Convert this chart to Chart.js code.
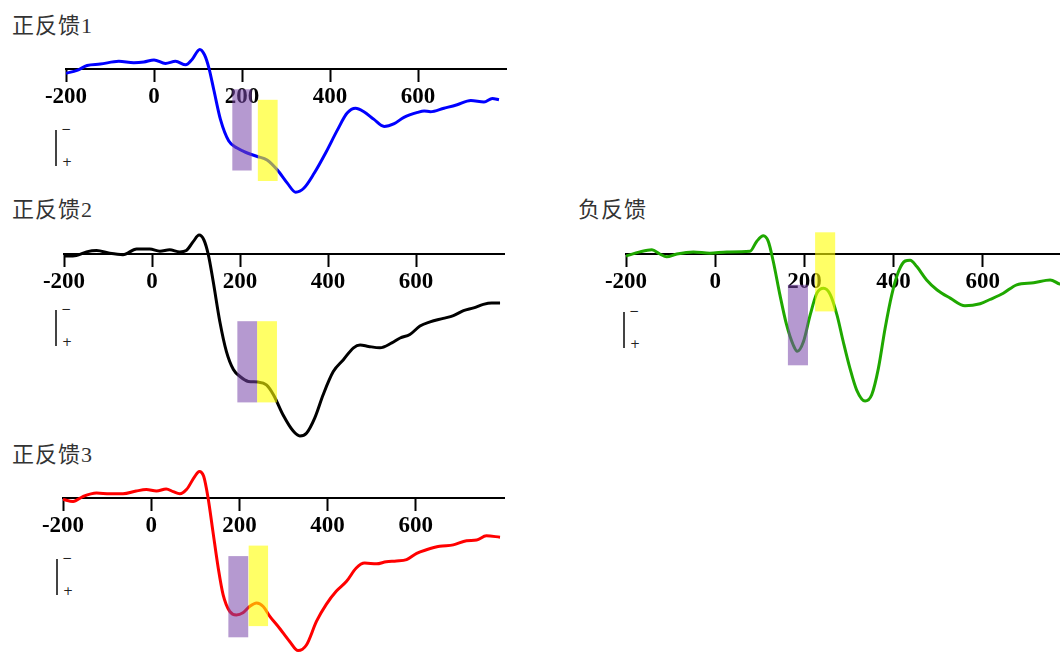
<!DOCTYPE html>
<html>
<head>
<meta charset="utf-8">
<script src="https://cdn.jsdelivr.net/npm/chart.js@4"></script>
<style>
  html, body { margin: 0; padding: 0; background: #fff; overflow: hidden; width: 1060px; height: 652px; }
  .wrap { position: absolute; }
  .title { position: absolute; font-family: "Liberation Serif", "Noto Sans CJK SC"; font-size: 22px; line-height: 22px; color: #333; letter-spacing: 1px; white-space: nowrap; }
  .pol { position: absolute; width: 20px; height: 36px; border-left: 2px solid #444; }
  .pol span { position: absolute; font-family: "DejaVu Sans"; font-size: 12px; line-height: 12px; color: #222; }
  .pol .m { left: 4px; top: -7px; }
  .pol .p { left: 5px; top: 26px; }
</style>
</head>
<body>

<div class="title" style="left:12px;top:15px">正反馈1</div>
<div class="title" style="left:12px;top:199px">正反馈2</div>
<div class="title" style="left:578px;top:199px">负反馈</div>
<div class="title" style="left:12px;top:444px">正反馈3</div>

<div class="pol" style="left:55px;top:130px"><span class="m">−</span><span class="p">+</span></div>
<div class="pol" style="left:55px;top:310px"><span class="m">−</span><span class="p">+</span></div>
<div class="pol" style="left:623px;top:312px"><span class="m">−</span><span class="p">+</span></div>
<div class="pol" style="left:56px;top:559px"><span class="m">−</span><span class="p">+</span></div>

<div class="wrap" style="left:36px;top:27px;width:480px;height:238px"><canvas id="c1"></canvas></div>
<div class="wrap" style="left:34px;top:212px;width:480px;height:238px"><canvas id="c2"></canvas></div>
<div class="wrap" style="left:596px;top:212px;width:486px;height:238px"><canvas id="c3"></canvas></div>
<div class="wrap" style="left:33px;top:456px;width:481px;height:238px"><canvas id="c4"></canvas></div>

<script>
// time axis ticks (ms)
var tickValues = [-200, 0, 200, 400, 600];

// 正反馈1 (amplitude, positive plotted downward)
var pos1Time = [-200,-175,-152,-122,-80,-46,-23,0,26,49,72,87,104,115,125,136,151,170,189,212,235,257,280,303,322,341,364,390,417,439,458,477,500,523,546,568,599,614,628,659,689,720,750,769,784];
var pos1Amp  = [0.6,0.2,-0.5,-0.7,-1.1,-0.9,-1.0,-1.3,-0.8,-1.1,-0.6,-1.4,-2.8,-2.0,-0.1,3.0,7.2,10.3,11.3,12.0,12.5,13.0,14.4,16.3,17.6,17.0,14.9,12.0,8.7,6.3,5.6,6.1,7.2,8.2,7.8,6.9,6.2,6.0,6.1,5.6,5.1,4.5,4.7,4.2,4.4];

// 正反馈2
var pos2Time = [-200,-172,-149,-126,-96,-66,-35,-5,18,40,63,78,94,107,118,128,139,154,169,185,200,219,241,260,276,298,321,336,351,370,389,412,435,458,473,492,518,545,564,586,609,632,662,685,708,731,753,772,791];
var pos2Amp  = [0.3,0.2,-0.3,-0.5,-0.1,0.1,-0.7,-0.7,-0.4,-0.6,-0.3,-0.5,-1.8,-2.7,-2.0,0.1,3.9,9.6,13.9,16.5,17.5,18.2,18.3,18.7,20.1,23.0,25.3,26.0,25.6,23.4,20.1,16.8,15.1,13.4,13.0,13.2,13.4,12.7,12.0,11.5,10.3,9.7,9.2,8.8,8.1,7.7,7.2,7.0,7.0];

// 负反馈
var negTime = [-200,-169,-142,-124,-109,-86,-49,-12,26,78,93,108,119,130,145,160,175,184,198,213,228,243,258,273,287,302,317,336,351,366,381,396,411,426,437,452,474,497,527,560,594,616,646,676,714,751,773,800];
var negAmp  = [0.3,-0.3,-0.6,0,0.4,0,-0.3,-0.1,-0.3,-0.4,-1.8,-2.6,-1.8,1.0,5.8,10.1,13.0,13.9,12.5,8.7,5.6,4.9,5.8,8.7,12.5,16.3,19.4,21.0,20.1,16.3,10.6,5.8,2.5,1.0,0.9,1.8,3.7,5.1,6.3,7.4,7.1,6.5,5.6,4.4,4.1,3.7,4.3,4.5];

// 正反馈3
var pos3Time = [-200,-177,-155,-124,-94,-64,-34,-11,12,34,50,65,80,99,109,119,129,140,152,163,178,193,208,223,239,254,269,291,314,333,352,375,397,420,443,465,484,511,533,556,579,602,624,654,685,715,738,760,791];
var pos3Amp  = [0.2,0.5,-0.2,-0.7,-0.6,-0.6,-1.0,-1.2,-1.0,-1.3,-0.9,-0.6,-1.2,-3.1,-3.8,-3.1,0,4.8,10.0,13.8,16.2,16.7,16.4,15.5,15.0,15.5,16.9,18.6,20.5,21.8,21.0,17.6,15.2,13.3,11.9,10.0,9.3,9.4,9.1,9.0,8.8,7.9,7.4,6.9,6.7,6.1,6.0,5.4,5.6];

// analysis windows: [from ms, to ms, top amp, bottom amp]
var pos1Windows = [[178, 222, 2.9, 14.5], [236, 281, 4.4, 16.0]];
var pos2Windows = [[194, 239, 9.6, 21.2], [239, 284, 9.6, 21.2]];
var negWindows  = [[163, 208, 4.4, 15.9], [224, 269, -3.1, 8.2]];
var pos3Windows = [[175, 220, 8.3, 19.9], [221, 265, 6.8, 18.3]];

var windowColors = ["rgba(120, 70, 170, 0.55)", "rgba(255, 255, 0, 0.6)"];

var windowPlugin = {
    id: "windows",
    afterDatasetsDraw: function (chart, args, opts) {
        var ctx = chart.ctx, xs = chart.scales.x, ys = chart.scales.y;
        (opts.items || []).forEach(function (w, i) {
            var x0 = xs.getPixelForValue(w[0]), x1 = xs.getPixelForValue(w[1]);
            var y0 = ys.getPixelForValue(w[2]), y1 = ys.getPixelForValue(w[3]);
            ctx.save();
            ctx.fillStyle = windowColors[i];
            ctx.fillRect(x0, y0, x1 - x0, y1 - y0);
            ctx.restore();
        });
    }
};

function makeChart(id, times, amps, color, windows) {
    var pts = times.map(function (t, i) { return { x: t, y: amps[i] }; });
    return new Chart(document.getElementById(id), {
        type: "line",
        data: {
            datasets: [{
                data: pts,
                borderColor: color,
                borderWidth: 3,
                pointRadius: 0,
                fill: false,
                cubicInterpolationMode: "monotone"
            }]
        },
        options: {
            responsive: true,
            maintainAspectRatio: false,
            animation: false,
            layout: { padding: { left: 30, right: 10, top: 0, bottom: 0 } },
            plugins: {
                legend: { display: false },
                tooltip: { enabled: false },
                windows: { items: windows }
            },
            scales: {
                x: {
                    type: "linear",
                    position: { y: 0 },
                    min: -200,
                    max: 800,
                    afterBuildTicks: function (s) {
                        s.ticks = tickValues.map(function (v) { return { value: v }; });
                    },
                    grid: { drawOnChartArea: false, drawTicks: true, tickLength: 12, tickWidth: 2, tickColor: "#000" },
                    border: { display: true, color: "#000", width: 2 },
                    ticks: {
                        color: "#000",
                        padding: 2,
                        maxRotation: 0,
                        autoSkip: false,
                        font: { family: "Liberation Serif", size: 23, weight: "bold" }
                    }
                },
                y: {
                    display: false,
                    reverse: true,
                    min: -6,
                    max: 28
                }
            }
        },
        plugins: [windowPlugin]
    });
}

makeChart("c1", pos1Time, pos1Amp, "#0000ff", pos1Windows);
makeChart("c2", pos2Time, pos2Amp, "#000000", pos2Windows);
makeChart("c3", negTime, negAmp, "#1fa800", negWindows);
makeChart("c4", pos3Time, pos3Amp, "#ff0000", pos3Windows);
</script>
</body>
</html>
